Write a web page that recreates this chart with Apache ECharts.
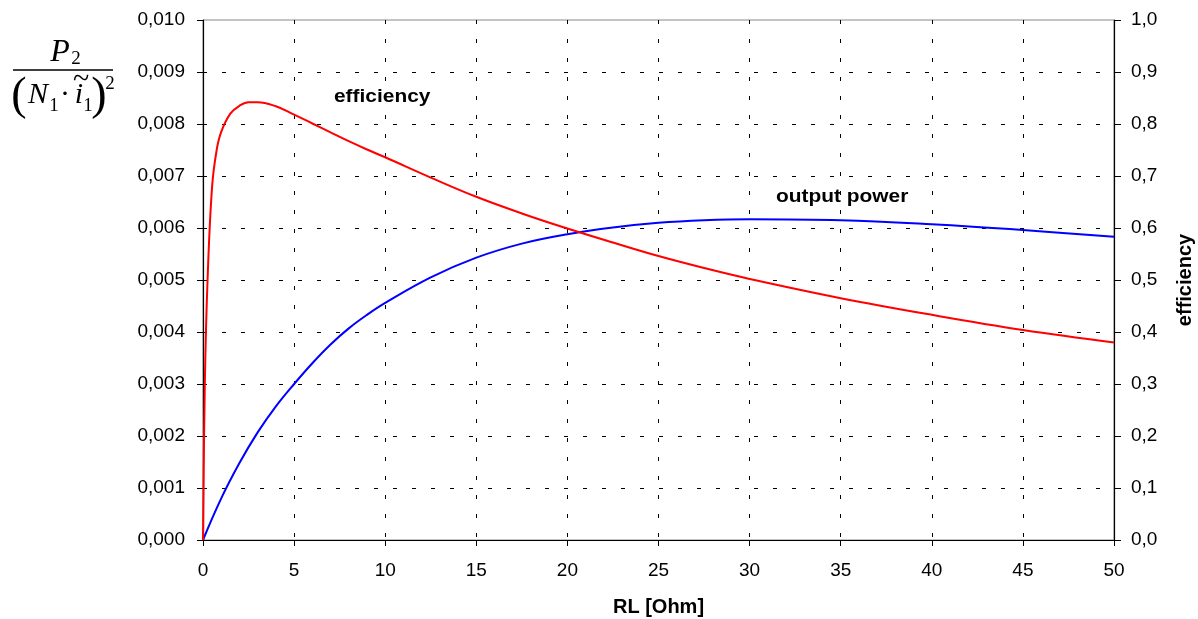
<!DOCTYPE html>
<html>
<head>
<meta charset="utf-8">
<script src="https://cdn.jsdelivr.net/npm/echarts@6/dist/echarts.min.js"></script>
<style>
  html, body { margin: 0; padding: 0; background: #fff; }
  #chart { width: 1198px; height: 619px; }
</style>
</head>
<body>
<div id="chart"></div>
<script>
// output power, left axis
const rlPower = [0, 1, 2, 3, 4, 5, 6, 7, 8, 9, 10, 12.5, 15, 17.5, 20, 22.5, 25, 27.5, 30, 35, 40, 45, 50]
const power = [0, 0.00080, 0.00148, 0.00207, 0.00257, 0.00300, 0.00340, 0.00376, 0.00407, 0.00433, 0.00456,
  0.00505, 0.00543, 0.00570, 0.00588, 0.00601, 0.00610, 0.00615, 0.00617, 0.00615, 0.00607, 0.00596, 0.00583]

// efficiency, right axis
const rlEff = [0, 0.1, 0.25, 0.5, 0.75, 1, 1.5, 2, 2.5, 3, 4, 5, 6, 7, 8, 9, 10, 12.5, 15, 17.5, 20, 22.5, 25, 27.5, 30, 35, 40, 45, 50]
const eff = [0, 0.30, 0.50, 0.68, 0.75, 0.785, 0.82, 0.835, 0.842, 0.842, 0.834, 0.818, 0.801, 0.784, 0.767, 0.751,
  0.736, 0.697, 0.660, 0.628, 0.599, 0.572, 0.546, 0.523, 0.502, 0.465, 0.433, 0.404, 0.380]

const xTicks = { min: 0, max: 50, interval: 5 }

const chart = echarts.init(document.getElementById('chart'))

const labelFont = { color: '#000', fontSize: 19, fontFamily: 'Liberation Sans' }
const titleFont = { color: '#000', fontSize: 20, fontWeight: 'bold', fontFamily: 'Liberation Sans' }
const dashed = { color: '#000', width: 1, type: [4, 15] }
const serif = '"Liberation Serif"'

function txt (text, x, y, font) {
  return {
    type: 'text',
    x: x,
    y: y,
    style: { text: text, font: font, fill: '#000', align: 'center', verticalAlign: 'middle' }
  }
}

const option = {
  backgroundColor: '#fff',
  animation: false,
  grid: {
    left: 203,
    right: 84,
    top: 20,
    bottom: 79,
    outerBoundsMode: 'none',
    containLabel: false,
    show: true,
    borderColor: '#888',
    borderWidth: 1
  },
  xAxis: {
    type: 'value',
    min: xTicks.min,
    max: xTicks.max,
    interval: xTicks.interval,
    name: 'RL [Ohm]',
    nameLocation: 'middle',
    nameGap: 57,
    nameTextStyle: titleFont,
    axisLine: { lineStyle: { color: '#000', width: 1.2 } },
    axisTick: { length: 6, lineStyle: { color: '#000' } },
    axisLabel: Object.assign({ margin: 21 }, labelFont),
    splitLine: { show: true, showMinLine: false, showMaxLine: false, lineStyle: dashed }
  },
  yAxis: [
    {
      type: 'value',
      min: 0,
      max: 0.01,
      interval: 0.001,
      axisLine: { show: true, lineStyle: { color: '#000', width: 1.2 } },
      axisTick: { show: true, length: 6, lineStyle: { color: '#000' } },
      axisLabel: Object.assign({
        margin: 18,
        formatter: v => v.toFixed(3).replace('.', ',')
      }, labelFont),
      splitLine: { show: true, showMinLine: false, showMaxLine: false, lineStyle: dashed }
    },
    {
      type: 'value',
      min: 0,
      max: 1,
      interval: 0.1,
      position: 'right',
      name: 'efficiency',
      nameLocation: 'middle',
      nameRotate: 90,
      nameGap: 61,
      nameTextStyle: titleFont,
      axisLine: { show: true, lineStyle: { color: '#000', width: 1.2 } },
      axisTick: { show: true, length: 7, lineStyle: { color: '#000' } },
      axisLabel: Object.assign({
        margin: 17,
        formatter: v => v.toFixed(1).replace('.', ',')
      }, labelFont),
      splitLine: { show: false }
    }
  ],
  series: [
    {
      name: 'output power',
      type: 'line',
      yAxisIndex: 0,
      data: rlPower.map((x, i) => [x, power[i]]),
      showSymbol: false,
      smooth: 0.4,
      lineStyle: { color: '#0000ff', width: 2 },
      z: 3
    },
    {
      name: 'efficiency',
      type: 'line',
      yAxisIndex: 1,
      data: rlEff.map((x, i) => [x, eff[i]]),
      showSymbol: false,
      smooth: 0.4,
      lineStyle: { color: '#ff0000', width: 2 },
      z: 4
    }
  ],
  graphic: [
    // left axis title: P2 / (N1 · i~1)^2
    txt('P', 60, 53, 'italic 32px ' + serif),
    txt('2', 76, 59, '19px ' + serif),
    {
      type: 'line',
      shape: { x1: 13, y1: 70, x2: 113, y2: 70 },
      style: { stroke: '#000', lineWidth: 1.3 }
    },
    txt('(', 19, 97, '46px ' + serif),
    txt('N', 38, 95, 'italic 30px ' + serif),
    txt('1', 54, 106, '19px ' + serif),
    txt('·', 65, 95, '30px ' + serif),
    txt('i', 79, 95, 'italic 30px ' + serif),
    txt('~', 81, 80, '30px ' + serif),
    txt('1', 88, 106, '19px ' + serif),
    txt(')', 99, 97, '46px ' + serif),
    txt('2', 110, 84, '19px ' + serif),
    // curve labels
    {
      type: 'text',
      x: 334,
      y: 97,
      scaleX: 1.1,
      style: { text: 'efficiency', font: 'bold 19px "Liberation Sans"', fill: '#000', verticalAlign: 'middle' }
    },
    {
      type: 'text',
      x: 776,
      y: 197,
      scaleX: 1.1,
      style: { text: 'output power', font: 'bold 19px "Liberation Sans"', fill: '#000', verticalAlign: 'middle' }
    }
  ]
}

chart.setOption(option)
</script>
</body>
</html>
